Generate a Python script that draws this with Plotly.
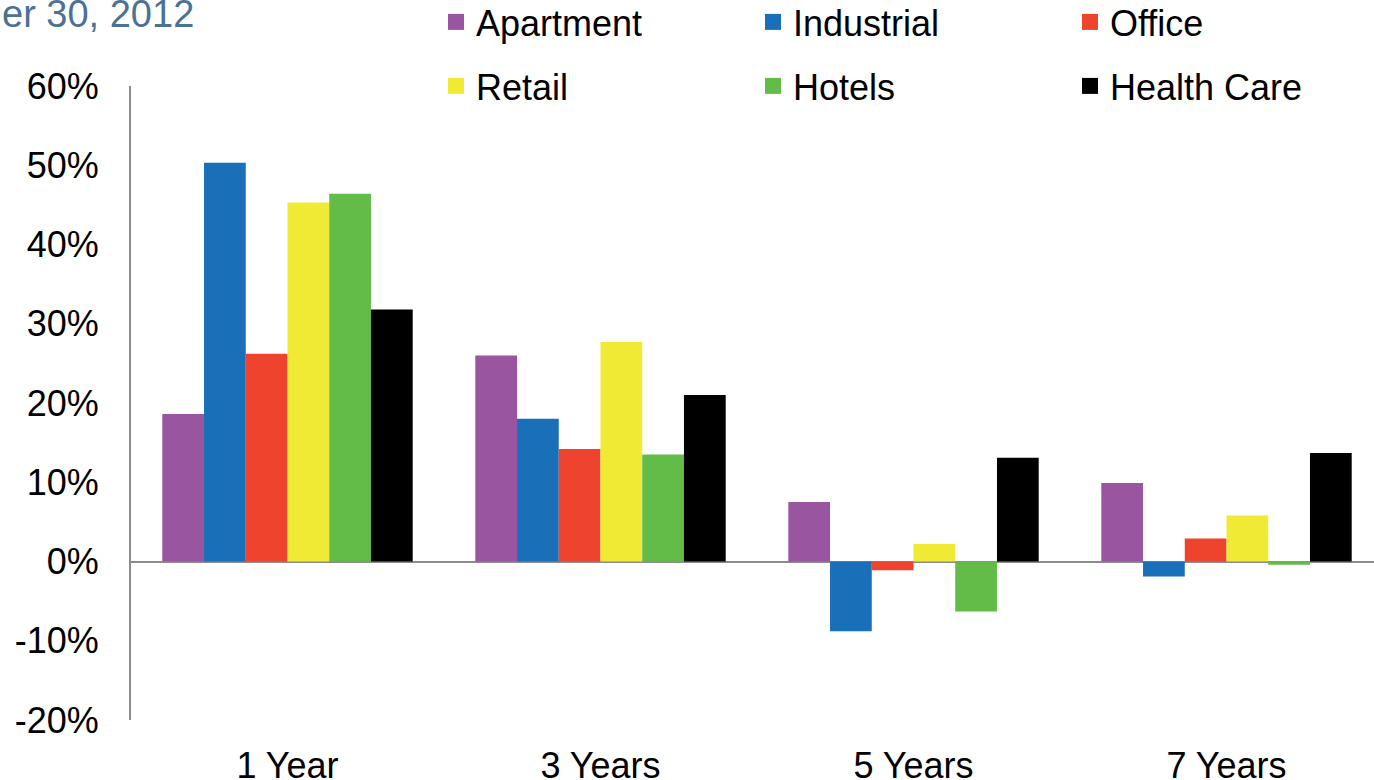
import plotly.graph_objects as go

categories = ["1 Year", "3 Years", "5 Years", "7 Years"]
apartment = [18.6, 26.0, 7.5, 9.9]
industrial = [50.3, 18.0, -8.8, -1.9]
office = [26.2, 14.2, -1.1, 2.9]
retail = [45.3, 27.7, 2.2, 5.8]
hotels = [46.4, 13.5, -6.3, -0.4]
health_care = [31.8, 21.0, 13.1, 13.7]

series_names = ["Apartment", "Industrial", "Office", "Retail", "Hotels", "Health Care"]
series_values = [apartment, industrial, office, retail, hotels, health_care]
colors = ["#9A55A0", "#1A70B8", "#EE432D", "#F0EA35", "#63BB48", "#000000"]
legend_ids = ["legend", "legend", "legend", "legend2", "legend2", "legend2"]

tick_vals = [-20, -10, 0, 10, 20, 30, 40, 50, 60]
tick_text = [f"{v}%" for v in tick_vals]

FONT = "Liberation Sans, Arial, sans-serif"
FS = 36

fig = go.Figure()
for name, vals, col, lg in zip(series_names, series_values, colors, legend_ids):
    fig.add_trace(go.Bar(
        x=categories, y=vals, name=name,
        marker=dict(color=col, line=dict(width=0)),
        legendgroup=name, showlegend=False,
    ))
    # legend swatch (square marker, no data drawn)
    fig.add_trace(go.Scatter(
        x=[None], y=[None], name=name, mode="markers",
        marker=dict(symbol="square", size=16, color=col, line=dict(width=0)),
        legendgroup=name, legend=lg, showlegend=True, hoverinfo="skip",
    ))

W, H = 1374, 780
L, R, T, B = 131, 0, 86, 60
pw, ph = W - L - R, H - T - B

def px_x(p):
    return (p - L) / pw

def px_y(p):
    return (H - B - p) / ph

legend_common = dict(
    orientation="h", xanchor="left", yanchor="middle",
    entrywidth=272, entrywidthmode="pixels",
    font=dict(family=FONT, size=FS, color="#000000"),
    bgcolor="rgba(0,0,0,0)", borderwidth=0,
)

fig.update_layout(
    width=W, height=H,
    margin=dict(l=L, r=R, t=T, b=B, autoexpand=False),
    paper_bgcolor="white", plot_bgcolor="white",
    barmode="group", bargap=0.2, bargroupgap=0,
    font=dict(family=FONT, size=FS, color="#000000"),
    legend=dict(x=px_x(436), y=px_y(22), **legend_common),
    legend2=dict(x=px_x(436), y=px_y(86), **legend_common),
    xaxis=dict(
        range=[-0.5, -0.5 + pw / 313.0],
        showline=False, showgrid=False, zeroline=False,
        ticks="", ticklabelstandoff=21,
        tickfont=dict(family=FONT, size=FS, color="#000000"),
    ),
    yaxis=dict(
        range=[-20, 60], tickvals=tick_vals, ticktext=tick_text,
        showline=True, linecolor="#8C8C8C", linewidth=2,
        showgrid=False, zeroline=True, zerolinecolor="#8C8C8C", zerolinewidth=2,
        ticks="", ticklabelstandoff=23,
        tickfont=dict(family=FONT, size=FS, color="#000000"),
    ),
    showlegend=True,
)

fig.add_annotation(
    text="er 30, 2012", xref="paper", yref="paper",
    x=px_x(0), y=px_y(14), xanchor="left", yanchor="middle",
    showarrow=False,
    font=dict(family=FONT, size=38, color="#4B7196"),
)

fig.write_html("out.html")
